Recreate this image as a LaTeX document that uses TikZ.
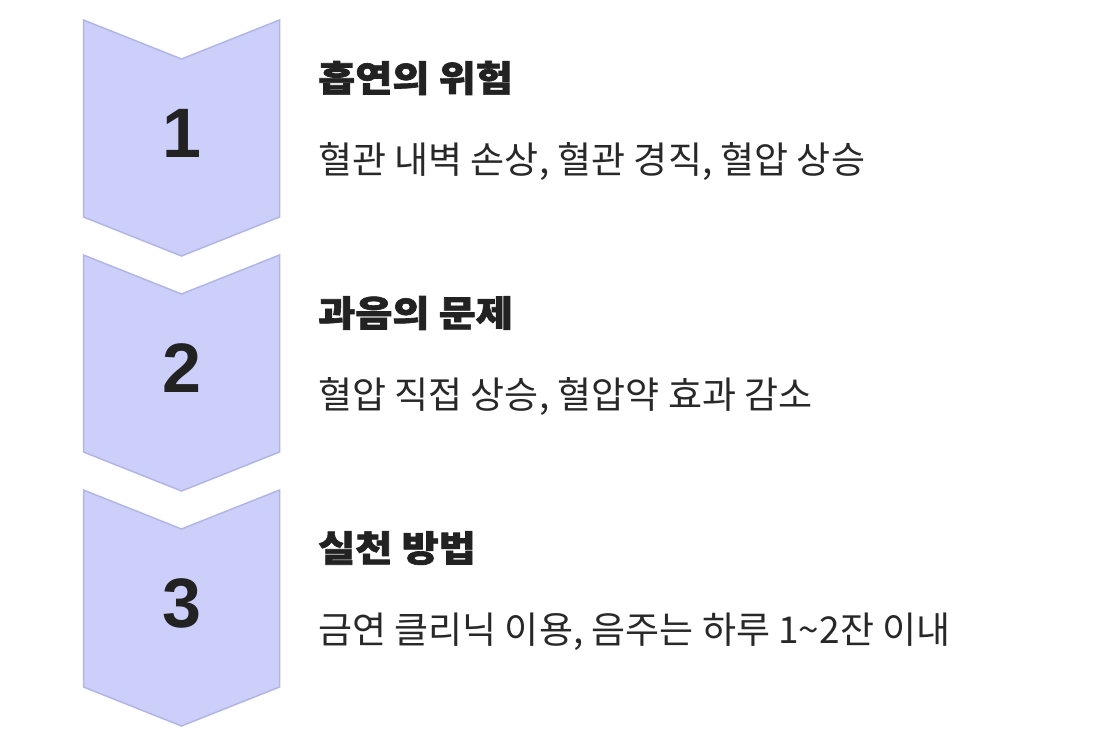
\documentclass[tikz,border=0pt]{standalone}
\usepackage{fontspec}
\newfontfamily\kr{Noto Sans CJK KR}
\newfontfamily\krtitle[BoldFont={Noto Sans CJK KR Black},BoldFeatures={FakeStretch=1.12,FakeBold=1.8}]{Noto Sans CJK KR}
\newfontfamily\numfont{Liberation Sans}
\definecolor{chevfill}{RGB}{204,207,250}
\definecolor{chevline}{RGB}{178,182,228}
\definecolor{ink}{RGB}{34,34,34}
\definecolor{descink}{RGB}{40,40,40}
\tikzset{
  chevron/.style={fill=chevfill, draw=chevline, line width=1.5pt, line join=miter},
  numlabel/.style={font=\numfont\bfseries\fontsize{70}{72}\selectfont, text=ink, inner sep=0pt},
  titlelabel/.style={font=\krtitle\bfseries\fontsize{36}{40}\selectfont, text=ink, anchor=west, inner sep=0pt},
  desclabel/.style={font=\kr\fontsize{37}{40}\selectfont, text=descink, anchor=west, inner sep=0pt}
}
\begin{document}
\begin{tikzpicture}[x=1pt,y=-1pt]
\useasboundingbox (0,0) rectangle (1094,748);
\foreach \i/\n/\t/\d in {0/1/{흡연의 위험}/{혈관 내벽 손상, 혈관 경직, 혈압 상승},
                         1/2/{과음의 문제}/{혈압 직접 상승, 혈압약 효과 감소},
                         2/3/{실천 방법}/{금연 클리닉 이용, 음주는 하루 1\textasciitilde2잔 이내}}{
  \pgfmathsetmacro{\oy}{235*\i}
  \begin{scope}[yshift={-\oy pt}]
    \draw[chevron] (83.5,20) -- (181.5,59) -- (279.5,20) -- (279.5,217) -- (181.5,256) -- (83.5,217) -- cycle;
    \node[numlabel] (num\n) at (181.5,133) {\n};
    \node[titlelabel] (title\n) at (318,78) {\t};
    \node[desclabel] (desc\n) at (318,162) {\d};
  \end{scope}
}
\end{tikzpicture}
\end{document}
